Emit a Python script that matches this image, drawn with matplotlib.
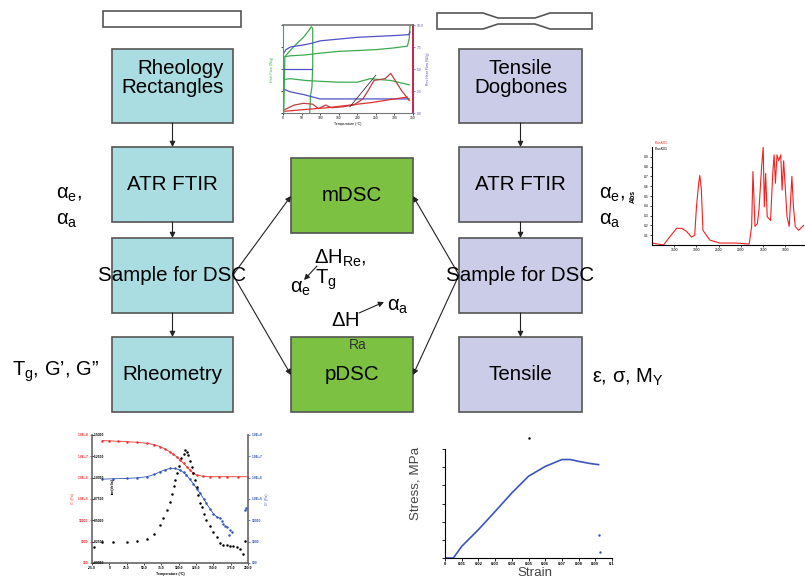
import matplotlib
matplotlib.use("Agg")
import matplotlib.pyplot as plt
from matplotlib.patches import Rectangle, Polygon

plt.rcParams['font.family'] = ['Liberation Sans', 'DejaVu Sans']
plt.rcParams['mathtext.fontset'] = 'custom'
plt.rcParams['mathtext.rm'] = 'Liberation Sans'
plt.rcParams['mathtext.it'] = 'Liberation Sans:italic'
plt.rcParams['mathtext.bf'] = 'Liberation Sans:bold'

W, H = 805, 579

# ---- flowchart text
left_steps = ["Rheology\nRectangles", "ATR FTIR", "Sample for DSC", "Rheometry"]
right_steps = ["Tensile\nDogbones", "ATR FTIR", "Sample for DSC", "Tensile"]
center_steps = ["mDSC", "pDSC"]

# ---- DSC thermogram (top centre), temperature in C, heat flow arb.
dsc_loop_t = [2, 5, 15, 35, 55, 70, 76, 80, 80, 78, 74, 72]
dsc_loop_y = [0, 6.4, 6.9, 7.8, 8.6, 9.4, 9.8, 9.6, 5.5, 3.0, 1.9, 0]
dsc_g_up_t = [5, 20, 60, 100, 150, 200, 250, 300, 335, 340, 342]
dsc_g_up_y = [6.4, 6.5, 6.6, 6.8, 7.0, 7.1, 7.2, 7.4, 7.6, 8.5, 10]
dsc_g_lo_t = [2, 20, 60, 100, 150, 200, 235, 260, 290, 320, 340]
dsc_g_lo_y = [3.8, 3.9, 3.7, 3.6, 3.5, 3.5, 3.9, 3.8, 3.7, 3.4, 3.2]
dsc_b_up_t = [2, 8, 20, 50, 75, 100, 150, 200, 250, 300, 338, 342]
dsc_b_up_y = [6.8, 7.2, 7.5, 7.7, 7.9, 8.2, 8.4, 8.6, 8.7, 8.8, 8.9, 9.2]
dsc_b_mid_t = [2, 78]
dsc_b_mid_y = [5.0, 5.0]
dsc_b_lo_t = [2, 20, 55, 100, 145, 200, 250, 300, 340]
dsc_b_lo_y = [2.7, 2.4, 2.1, 1.6, 1.6, 1.6, 1.6, 1.6, 1.6]
dsc_r_t = [5, 30, 55, 80, 95, 115, 130, 160, 190, 215, 230, 245, 260, 275, 290, 305, 320, 335, 340]
dsc_r_y = [0.4, 0.9, 1.1, 1.0, 0.5, 0.9, 0.6, 0.7, 0.9, 1.6, 2.6, 3.7, 3.8, 3.9, 4.5, 3.5, 2.5, 1.7, 1.4]
dsc_r2_t = [5, 60, 120, 180, 240, 300, 335]
dsc_r2_y = [0.2, 0.4, 0.6, 0.9, 1.2, 1.6, 1.8]
dsc_tan_t = [180, 250]
dsc_tan_y = [0.7, 4.3]

# ---- ATR FTIR spectrum (right)
ftir_wn = [4000, 3740, 3590, 3445, 3335, 3225, 3110, 3040, 3000, 2950,
           2925, 2890, 2855, 2700, 2480, 2110, 1815, 1760, 1730, 1685,
           1630, 1595, 1535, 1500, 1475, 1445, 1410, 1335, 1285, 1255,
           1225, 1190, 1150, 1105, 1075, 1040, 965, 915, 855, 820,
           780, 705, 635, 595]
ftir_abs = [0.02, 0.00, 0.09, 0.17, 0.17, 0.14, 0.08, 0.10, 0.39, 0.63,
            0.71, 0.56, 0.15, 0.05, 0.02, 0.02, 0.01, 0.19, 0.75, 0.19,
            0.22, 0.36, 0.80, 1.00, 0.39, 0.73, 0.29, 0.25, 0.73, 0.92,
            0.63, 0.92, 0.86, 0.92, 0.56, 0.86, 0.29, 0.19, 0.70, 0.39,
            0.19, 0.15, 0.18, 0.20]

# ---- rheometry temperature sweep (bottom left)
rh_red_t = [-10, 0, 12, 25, 40, 54, 65, 73, 80, 87, 92, 97, 102, 107, 112, 116, 121, 126, 135, 145, 158, 169, 185, 200]
rh_red_y = [0.956, 0.954, 0.951, 0.948, 0.943, 0.935, 0.925, 0.909, 0.892, 0.869, 0.851, 0.830, 0.805, 0.778, 0.750, 0.726, 0.703, 0.687, 0.678, 0.674, 0.674, 0.674, 0.674, 0.674]
rh_blue_t = [-10, 5, 25, 40, 54, 65, 73, 80, 87, 95, 102, 107, 111, 116, 121, 126, 131, 136, 140, 145, 150, 155, 159]
rh_blue_y = [0.655, 0.658, 0.661, 0.665, 0.674, 0.692, 0.713, 0.727, 0.739, 0.739, 0.726, 0.708, 0.687, 0.655, 0.621, 0.582, 0.543, 0.503, 0.465, 0.425, 0.386, 0.360, 0.350]
rh_blue_tail_t = [162, 164, 167, 169, 172, 174, 177, 195, 197]
rh_blue_tail_y = [0.330, 0.308, 0.290, 0.282, 0.217, 0.256, 0.245, 0.413, 0.430]
rh_black_t = [-10, 5, 25, 40, 54, 64, 73, 78, 83, 87, 90, 93, 95, 98, 100, 104, 107, 109, 112, 114, 117, 119, 121, 123, 126, 128, 131, 133, 137, 140, 145, 150, 155, 159, 164, 169, 174, 179, 184, 188, 193]
rh_black_y = [0.164, 0.164, 0.166, 0.172, 0.191, 0.230, 0.295, 0.350, 0.413, 0.480, 0.540, 0.600, 0.650, 0.700, 0.760, 0.820, 0.850, 0.883, 0.870, 0.843, 0.800, 0.752, 0.700, 0.650, 0.595, 0.530, 0.470, 0.439, 0.380, 0.334, 0.290, 0.243, 0.200, 0.160, 0.140, 0.138, 0.135, 0.130, 0.125, 0.112, 0.073]
rh_black_extra_t = [-22, 196]
rh_black_extra_y = [0.125, 0.170]

# ---- tensile stress-strain (bottom right)
ss_strain = [0, 0.5, 1, 2, 3, 4, 5, 6, 7, 7.5, 8, 8.7, 9.2]
ss_stress = [0, 0, 3.2, 7.8, 12.8, 17.9, 22.5, 25.2, 27.1, 27.1, 26.6, 26.0, 25.7]
ss_stray_blue_x = [9.2, 9.3]
ss_stray_blue_y = [6.4, 1.6]
ss_stray_black_x = [5.05]
ss_stray_black_y = [33]

cyan = '#a9dde1'
lilac = '#cbcce8'
green = '#7dc142'
edge = '#555555'

fig = plt.figure(figsize=(W / 100, H / 100), dpi=100)
ax = fig.add_axes([0, 0, 1, 1])
ax.set_xlim(0, W)
ax.set_ylim(H, 0)
ax.axis('off')

rows = [(49, 123), (147, 222), (238, 313), (337, 412)]
for (t, b), lt, rt in zip(rows, left_steps, right_steps):
    ax.add_patch(Rectangle((112, t), 121, b - t, fc=cyan, ec=edge, lw=1.2, zorder=2))
    ax.add_patch(Rectangle((459, t), 123, b - t, fc=lilac, ec=edge, lw=1.2, zorder=2))
    ty = (t + b) / 2 - (8 if '\n' in lt else 0)
    ax.text(172.5, ty, lt, ha='center', va='center', fontsize=14.8, zorder=4,
            multialignment='right' if lt.startswith('Rheo') else 'center', linespacing=1.0)
    ax.text(520.5, ty, rt, ha='center', va='center', fontsize=14.8, zorder=4, linespacing=1.0)

for (t, b), ct in zip([(158, 233), (337, 412)], center_steps):
    ax.add_patch(Rectangle((291, t), 122, b - t, fc=green, ec=edge, lw=1.2, zorder=2))
    ax.text(352, (t + b) / 2, ct, ha='center', va='center', fontsize=14.8, zorder=4)

arrow = dict(arrowstyle='-|>', lw=0.8, color='#222222', mutation_scale=8, shrinkA=0, shrinkB=0)
for x in (172.5, 520.5):
    for i in range(3):
        ax.annotate('', xy=(x, rows[i + 1][0]), xytext=(x, rows[i][1]), arrowprops=arrow, zorder=3)
for x0, x1 in ((233, 291), (459, 413)):
    ax.annotate('', xy=(x1, 196), xytext=(x0, 275), arrowprops=arrow, zorder=3)
    ax.annotate('', xy=(x1, 375), xytext=(x0, 275), arrowprops=arrow, zorder=3)

# specimen sketches
ax.add_patch(Rectangle((103, 11), 138, 16, fc='white', ec=edge, lw=1.2))
dog = [(437, 13), (483, 13), (498, 18), (535, 18), (550, 13), (592, 13),
       (592, 29), (550, 29), (535, 24), (498, 24), (483, 29), (437, 29)]
ax.add_patch(Polygon(dog, closed=True, fc='white', ec=edge, lw=1.2))

# measured quantities
fs = 14.5
ax.text(56, 194, r'$\mathrm{\alpha_e}$,', fontsize=fs, va='center', ha='left')
ax.text(56, 220, r'$\mathrm{\alpha_a}$', fontsize=fs, va='center', ha='left')
ax.text(599, 195, r'$\mathrm{\alpha_e}$,', fontsize=fs, va='center', ha='left')
ax.text(599, 221, r'$\mathrm{\alpha_a}$', fontsize=fs, va='center', ha='left')
ax.text(12, 372, r'$\mathrm{T_g}$, G’, G”', fontsize=fs, va='center', ha='left')
ax.text(592, 377, r'ε, σ, $\mathrm{M_Y}$', fontsize=fs, va='center', ha='left')
ax.text(314, 258, r'$\mathrm{\Delta H_{Re}}$,', fontsize=fs, va='center', ha='left')
ax.text(315, 280, r'$\mathrm{T_g}$', fontsize=fs, va='center', ha='left')
ax.text(290, 289, r'$\mathrm{\alpha_e}$', fontsize=fs, va='center', ha='left')
ax.annotate('', xy=(304, 280), xytext=(317, 266), arrowprops=arrow)
ax.text(331, 320, r'$\mathrm{\Delta H}$', fontsize=fs, va='center', ha='left')
ax.text(349, 345, 'Ra', fontsize=10, va='center', ha='left', color='#333333')
ax.annotate('', xy=(384, 302), xytext=(359, 313), arrowprops=arrow)
ax.text(387, 306, r'$\mathrm{\alpha_a}$', fontsize=fs, va='center', ha='left')


def inset(l, t, r, b):
    a = fig.add_axes([l / W, 1 - b / H, (r - l) / W, (b - t) / H])
    a.patch.set_alpha(0)
    return a


tiny = dict(labelsize=2.4, length=1.5, width=0.5, pad=1)

# DSC inset
a1 = inset(283, 25, 413, 113)
a1.plot(dsc_loop_t, dsc_loop_y, color='#3caa50', lw=0.9)
a1.plot(dsc_g_up_t, dsc_g_up_y, color='#3caa50', lw=0.9)
a1.plot(dsc_g_lo_t, dsc_g_lo_y, color='#3caa50', lw=0.9)
a1.plot(dsc_b_up_t, dsc_b_up_y, color='#5050c8', lw=0.9)
a1.plot(dsc_b_mid_t, dsc_b_mid_y, color='#5050c8', lw=0.9)
a1.plot(dsc_b_lo_t, dsc_b_lo_y, color='#5050c8', lw=0.9)
a1.plot(dsc_r_t, dsc_r_y, color='#b84040', lw=0.9)
a1.plot(dsc_r2_t, dsc_r2_y, color='#e03030', lw=0.9)
a1.plot(dsc_tan_t, dsc_tan_y, color='#333333', lw=0.6)
a1.set_xlim(0, 345)
a1.set_ylim(0, 10)
a1.spines['left'].set_color('#3caa50')
a1.spines['right'].set_color('#cc2244')
a1.spines['right'].set_linewidth(1.4)
a1.spines['top'].set_color('#777777')
a1.spines['top'].set_linewidth(1.2)
a1.spines['bottom'].set_color('#777777')
a1.tick_params(**tiny)
a1.set_xticks([0, 50, 100, 150, 200, 250, 300, 350])
a1.set_yticks([0, 2.5, 5, 7.5, 10])
a1.set_yticklabels([])
a1.set_xlabel('Temperature (°C)', fontsize=2.5, labelpad=1)
a1.set_ylabel('Heat Flow (W/g)', fontsize=2.5, color='#3caa50', labelpad=4)
a1b = a1.twinx()
a1b.set_ylim(0, 10)
a1b.set_yticks([0, 2.5, 5, 7.5, 10])
a1b.tick_params(colors='#5050c8', **tiny)
a1b.set_ylabel('Rev Heat Flow (W/g)', fontsize=2.5, color='#5050c8', labelpad=2)
for s in a1b.spines.values():
    s.set_visible(False)

# FTIR inset
a2 = inset(652, 147, 805, 245)
a2.plot(ftir_wn, ftir_abs, color='#ee2222', lw=0.8)
a2.set_xlim(4000, 560)
a2.set_ylim(0, 1.0)
a2.spines['top'].set_visible(False)
a2.spines['right'].set_visible(False)
a2.tick_params(**tiny)
a2.set_yticks([0.1, 0.2, 0.3, 0.4, 0.5, 0.6, 0.7, 0.8, 0.9])
a2.set_xticks([3500, 3000, 2500, 2000, 1500, 1000])
a2.set_ylabel('Abs', fontsize=5, fontweight='bold', labelpad=5)
a2.text(0.02, 1.03, 'PlusK01', color='#ee2222', fontsize=2.5, transform=a2.transAxes)
a2.text(0.02, 0.97, 'PlusK01', color='black', fontsize=2.5, transform=a2.transAxes)

# rheometry inset
a3 = inset(92, 435, 248, 563)
a3.plot(rh_red_t, rh_red_y, color='#ee3333', lw=0.6, marker='.', ms=1.6)
a3.plot(rh_blue_t, rh_blue_y, color='#3355bb', lw=0.6, marker='.', ms=1.6)
a3.plot(rh_blue_tail_t, rh_blue_tail_y, ls='none', color='#3355bb', marker='.', ms=1.6)
a3.plot(rh_black_t, rh_black_y, ls='none', color='black', marker='.', ms=1.6)
a3.plot(rh_black_extra_t, rh_black_extra_y, ls='none', color='black', marker='.', ms=1.6)
a3.set_xlim(-25, 200)
a3.set_ylim(0, 1)
a3.set_xticks([-25, 0, 25, 50, 75, 100, 125, 150, 175, 200])
a3.set_xticklabels(['-25.0', '0', '25.0', '50.0', '75.0', '100.0', '125.0', '150.0', '175.0', '200.0'],
                   fontweight='bold')
a3.set_yticks([0, 1 / 6, 2 / 6, 3 / 6, 4 / 6, 5 / 6, 1])
a3.set_yticklabels(['100', '1000', '10000', '1.0E+5', '1.0E+6', '1.0E+7', '1.0E+8'],
                   color='#ee3333', fontweight='bold')
a3.tick_params(**tiny)
a3.tick_params(axis='y', colors='#ee3333')
a3.spines['top'].set_visible(False)
for s in ('left', 'right', 'bottom'):
    a3.spines[s].set_color('#666666')
    a3.spines[s].set_linewidth(1.2)
a3.set_xlabel('Temperature (°C)', fontsize=2.5, fontweight='bold', labelpad=1)
a3.set_ylabel("G' (Pa)", fontsize=2.5, color='#ee3333', labelpad=2)
a3b = a3.twinx()
a3b.set_ylim(0, 1)
a3b.set_yticks([0, 1 / 6, 2 / 6, 3 / 6, 4 / 6, 5 / 6, 1])
a3b.set_yticklabels(['100', '1000', '10000', '1.0E+5', '1.0E+6', '1.0E+7', '1.0E+8'],
                    color='#3355bb', fontweight='bold')
a3b.tick_params(colors='#3355bb', **tiny)
a3b.set_ylabel('G" (Pa)', fontsize=2.5, color='#3355bb', labelpad=2)
for s in a3b.spines.values():
    s.set_visible(False)
a3c = a3.twinx()
a3c.set_ylim(0, 1.5)
a3c.yaxis.tick_left()
a3c.set_yticks([0, 0.25, 0.5, 0.75, 1.0, 1.25, 1.5])
a3c.set_yticklabels(['0.0000', '0.2500', '0.5000', '0.7500', '1.0000', '1.2500', '1.5000'],
                    fontweight='bold')
a3c.tick_params(direction='in', labelsize=2.4, length=1.5, width=0.5, pad=-9)
for s in a3c.spines.values():
    s.set_visible(False)
a3.text(0.12, 0.55, 'tan(delta)', fontsize=2.5, rotation=90, fontweight='bold', transform=a3.transAxes)

# stress-strain inset
a4 = inset(445, 449, 612, 558)
a4.plot(ss_strain, ss_stress, color='#3a55c0', lw=1.2)
a4.plot(ss_stray_blue_x, ss_stray_blue_y, ls='none', marker='.', ms=1.5, color='#3a55c0')
a4.plot(ss_stray_black_x, ss_stray_black_y, ls='none', marker='.', ms=1.5, color='black', clip_on=False)
a4.set_xlim(0, 10)
a4.set_ylim(0, 30)
a4.set_xticks(range(0, 11))
a4.set_xticklabels(['0', '0.01', '0.02', '0.03', '0.04', '0.05', '0.06', '0.07', '0.08', '0.09', '0.1'],
                   fontweight='bold')
a4.set_yticks([0, 5, 10, 15, 20, 25, 30])
a4.set_yticklabels([])
a4.tick_params(labelsize=3, length=2, width=0.6, pad=1)
a4.spines['top'].set_visible(False)
a4.spines['right'].set_visible(False)
a4.set_ylabel('Stress, MPa', fontsize=9.6, color='#444444')
a4.yaxis.set_label_coords(-0.138, 0.68)
a4.set_xlabel('Strain', fontsize=9.6, color='#444444')
a4.xaxis.set_label_coords(0.54, -0.085)

fig.savefig('out.png', dpi=100)
